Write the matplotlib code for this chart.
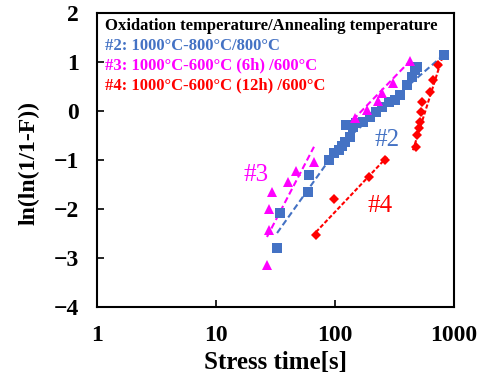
import matplotlib.pyplot as plt
import numpy as np

plt.rcParams['font.family'] = ['Liberation Serif', 'DejaVu Serif']

# sample #2 (blue squares)
t2 = [32.6, 34.5, 59.3, 61.0, 89.0, 98.1, 108, 114, 121, 133, 123.7, 141.7, 150,
      172, 197, 221, 248, 283, 319, 352, 402, 440, 470, 489, 830]
y2 = [-2.80, -2.08, -1.65, -1.31, -1.00, -0.86, -0.80, -0.71, -0.63, -0.53, -0.29,
      -0.33, -0.24, -0.22, -0.12, -0.02, 0.08, 0.18, 0.22, 0.33, 0.53, 0.69, 0.84,
      0.90, 1.14]
fit2_t = [32.6, 110, 870]
fit2_y = [-2.49, -0.69, 1.20]

# sample #3 (magenta triangles)
t3 = [26.8, 27.9, 27.9, 29.5, 40.3, 47.0, 66.6,
      147.3, 185.7, 229.7, 248.3, 307.1, 426.9]
y3 = [-3.14, -2.43, -2.00, -1.65, -1.45, -1.22, -1.04,
      -0.14, 0.02, 0.20, 0.37, 0.57, 1.02]
fit3a_t = [26.8, 66.6]
fit3a_y = [-2.57, -0.73]
fit3b_t = [141.7, 426.9]
fit3b_y = [-0.18, 1.02]

# sample #4 (red diamonds)
t4 = [69.2, 98.1, 193.1, 263.2,
      479.4, 488.8, 507.8, 517.8, 528.0, 538.4, 628.5, 666.2, 733.6]
y4 = [-2.53, -1.80, -1.35, -1.00,
      -0.73, -0.49, -0.35, -0.22, -0.02, 0.18, 0.39, 0.63, 0.94]
fit4a_t = [69.2, 273.5]
fit4a_y = [-2.47, -0.94]
fit4b_t = [452, 808.5]
fit4b_y = [-0.80, 1.14]

blue = '#4472C4'
magenta = '#FF00FF'
red = '#FF0000'

fig = plt.figure(figsize=(4.89, 3.74), dpi=100)
ax = fig.add_axes([0.1984, 0.1791, 0.73, 0.7861])

ax.plot(fit2_t, fit2_y, color=blue, lw=1.5, dashes=(3, 1.6))
ax.plot(fit3a_t, fit3a_y, color=magenta, lw=1.5, dashes=(3, 1.6))
ax.plot(fit3b_t, fit3b_y, color=magenta, lw=1.5, dashes=(3, 1.6))
ax.plot(fit4a_t, fit4a_y, color=red, lw=1.5, dashes=(2, 1))
ax.plot(fit4b_t, fit4b_y, color=red, lw=1.5, dashes=(2, 1))

ax.plot(t2, y2, 's', color=blue, ms=6.5, mew=0)
ax.plot(t3, y3, '^', color=magenta, ms=7.5, mew=0)
ax.plot(t4, y4, 'D', color=red, ms=5.5, mew=0)

ax.set_xscale('log')
ax.set_xlim(1, 1000)
ax.set_ylim(-4, 2)
ax.set_xticks([1, 10, 100, 1000])
ax.set_xticklabels(['1', '10', '100', '1000'])
ax.minorticks_off()
ax.set_yticks(range(-4, 3))
ax.tick_params(direction='in', length=5, width=1.2, labelsize=17, pad=13,
               top=False, right=False)
for lab in ax.get_xticklabels() + ax.get_yticklabels():
    lab.set_fontweight('bold')
for s in ax.spines.values():
    s.set_linewidth(1.5)

ax.set_xlabel('Stress time[s]', fontsize=18, fontweight='bold', va='center')
ax.xaxis.set_label_coords(0.5, -0.19)
ax.set_ylabel('ln(ln(1/1-F))', fontsize=17, fontweight='bold', va='center')
ax.yaxis.set_label_coords(-0.19, 0.49)

ax.text(0.022, 0.955, 'Oxidation temperature/Annealing temperature',
        transform=ax.transAxes, fontsize=12, fontweight='bold', va='center')
ax.text(0.022, 0.888, '#2: 1000°C-800°C/800°C', color=blue,
        transform=ax.transAxes, fontsize=12, fontweight='bold', va='center')
ax.text(0.022, 0.821, '#3: 1000°C-600°C (6h) /600°C', color=magenta,
        transform=ax.transAxes, fontsize=12, fontweight='bold', va='center')
ax.text(0.022, 0.754, '#4: 1000°C-600°C (12h) /600°C', color=red,
        transform=ax.transAxes, fontsize=12, fontweight='bold', va='center')

ax.text(21.5, -1.3, '#3', color=magenta, fontsize=18, ha='center', va='center')
ax.text(275, -0.6, '#2', color=blue, fontsize=18, ha='center', va='center')
ax.text(238, -1.94, '#4', color=red, fontsize=18, ha='center', va='center')

fig.savefig('out.png', dpi=100)
